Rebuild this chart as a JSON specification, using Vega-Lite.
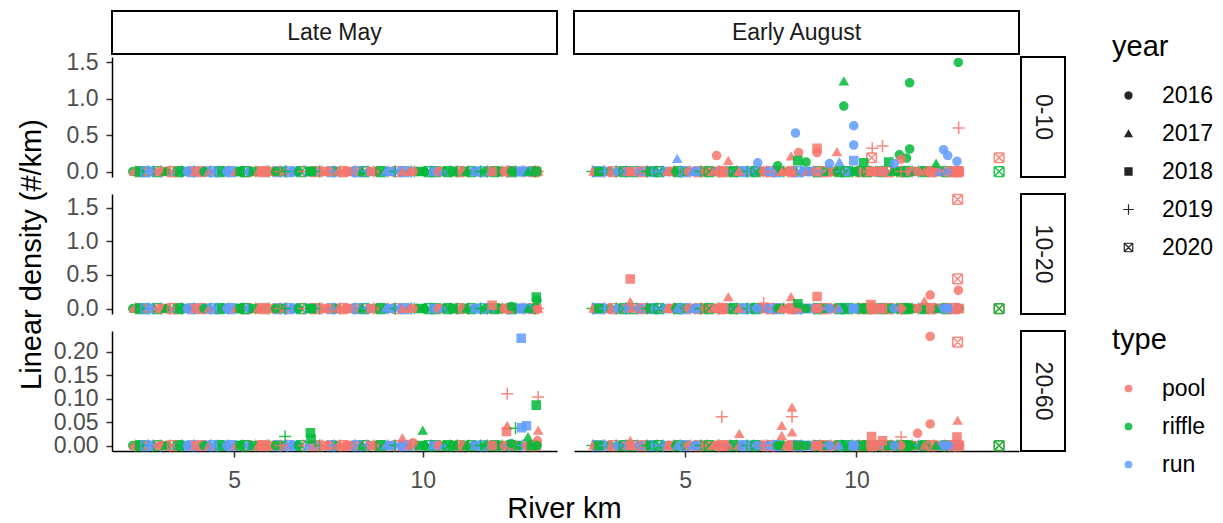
{
"$schema": "https://vega.github.io/schema/vega-lite/v6.json",
"background": "white",
"padding": {"left": 17, "top": 10, "right": 0, "bottom": 0},
"config": {
 "font": "Liberation Sans",
 "view": {"stroke": null},
 "axis": {"domainColor": "black", "domainWidth": 1.5, "tickColor": "#333333", "tickWidth": 1.5, "tickSize": 6, "labelColor": "#4D4D4D", "labelFontSize": 23, "grid": false, "titleFontSize": 29, "titleFontWeight": "normal", "titleColor": "black"},
 "axisX": {"labelPadding": 12},
 "axisY": {"labelPadding": 8},
 "legend": {"titleFontSize": 29, "titleFontWeight": "normal", "titleColor": "black", "labelFontSize": 23, "labelColor": "black", "padding": 0, "rowPadding": 14, "titlePadding": 22, "symbolOffset": 5, "labelOffset": 22},
 "title": {"fontSize": 29, "fontWeight": "normal", "color": "black"}
},
"title": {"text": "River km", "orient": "bottom", "anchor": "start", "align": "center", "dx": 547.5, "offset": 3},
"datasets": {
"d": [
{"k":2.31,"p":"M","yr":"2016","t":"riffle","a":0,"b":0,"c":0},
{"k":2.38,"p":"M","yr":"2019","t":"pool","a":0,"b":0,"c":0},
{"k":2.45,"p":"M","yr":"2017","t":"run","a":0,"b":0,"c":0},
{"k":2.52,"p":"M","yr":"2020","t":"riffle","a":0,"b":0,"c":0},
{"k":2.60,"p":"M","yr":"2018","t":"pool","a":0,"b":0,"c":0},
{"k":2.71,"p":"M","yr":"2019","t":"riffle","a":0,"b":0,"c":0},
{"k":2.80,"p":"M","yr":"2016","t":"run","a":0,"b":0,"c":0},
{"k":2.88,"p":"M","yr":"2017","t":"pool","a":0,"b":0,"c":0},
{"k":2.97,"p":"M","yr":"2020","t":"riffle","a":0,"b":0,"c":0},
{"k":3.05,"p":"M","yr":"2019","t":"run","a":0,"b":0,"c":0},
{"k":3.14,"p":"M","yr":"2018","t":"pool","a":0,"b":0,"c":0},
{"k":3.22,"p":"M","yr":"2016","t":"riffle","a":0,"b":0,"c":0},
{"k":3.31,"p":"M","yr":"2019","t":"pool","a":0,"b":0,"c":0},
{"k":3.40,"p":"M","yr":"2017","t":"run","a":0,"b":0,"c":0},
{"k":3.52,"p":"M","yr":"2020","t":"riffle","a":0,"b":0,"c":0},
{"k":3.61,"p":"M","yr":"2019","t":"riffle","a":0,"b":0,"c":0},
{"k":3.70,"p":"M","yr":"2018","t":"run","a":0,"b":0,"c":0},
{"k":3.82,"p":"M","yr":"2016","t":"pool","a":0,"b":0,"c":0},
{"k":3.93,"p":"M","yr":"2019","t":"riffle","a":0,"b":0,"c":0},
{"k":4.05,"p":"M","yr":"2017","t":"run","a":0,"b":0,"c":0},
{"k":4.15,"p":"M","yr":"2020","t":"pool","a":0,"b":0,"c":0},
{"k":4.26,"p":"M","yr":"2018","t":"run","a":0,"b":0,"c":0},
{"k":4.38,"p":"M","yr":"2019","t":"riffle","a":0,"b":0,"c":0},
{"k":4.50,"p":"M","yr":"2016","t":"run","a":0,"b":0,"c":0},
{"k":4.62,"p":"M","yr":"2020","t":"riffle","a":0,"b":0,"c":0},
{"k":4.74,"p":"M","yr":"2017","t":"run","a":0,"b":0,"c":0},
{"k":4.85,"p":"M","yr":"2019","t":"pool","a":0,"b":0,"c":0},
{"k":4.97,"p":"M","yr":"2018","t":"run","a":0,"b":0,"c":0},
{"k":5.10,"p":"M","yr":"2016","t":"riffle","a":0,"b":0,"c":0},
{"k":5.22,"p":"M","yr":"2019","t":"run","a":0,"b":0,"c":0},
{"k":5.33,"p":"M","yr":"2020","t":"pool","a":0,"b":0,"c":0},
{"k":5.45,"p":"M","yr":"2017","t":"riffle","a":0,"b":0,"c":0},
{"k":5.57,"p":"M","yr":"2019","t":"pool","a":0,"b":0,"c":0},
{"k":5.69,"p":"M","yr":"2018","t":"pool","a":0,"b":0,"c":0},
{"k":5.80,"p":"M","yr":"2016","t":"pool","a":0,"b":0,"c":0},
{"k":5.92,"p":"M","yr":"2019","t":"riffle","a":0,"b":0,"c":0},
{"k":6.04,"p":"M","yr":"2017","t":"pool","a":0,"b":0,"c":0},
{"k":6.15,"p":"M","yr":"2020","t":"run","a":0,"b":0,"c":0},
{"k":6.28,"p":"M","yr":"2018","t":"riffle","a":0,"b":0,"c":0},
{"k":6.40,"p":"M","yr":"2019","t":"pool","a":0,"b":0,"c":0},
{"k":6.52,"p":"M","yr":"2016","t":"run","a":0,"b":0,"c":0},
{"k":6.63,"p":"M","yr":"2017","t":"riffle","a":0,"b":0,"c":0},
{"k":6.77,"p":"M","yr":"2020","t":"riffle","a":0,"b":0,"c":0},
{"k":6.90,"p":"M","yr":"2019","t":"run","a":0,"b":0,"c":0},
{"k":7.08,"p":"M","yr":"2018","t":"pool","a":0,"b":0,"c":0},
{"k":7.20,"p":"M","yr":"2016","t":"run","a":0,"b":0,"c":0},
{"k":7.33,"p":"M","yr":"2019","t":"pool","a":0,"b":0,"c":0},
{"k":7.45,"p":"M","yr":"2017","t":"pool","a":0,"b":0,"c":0},
{"k":7.58,"p":"M","yr":"2020","t":"run","a":0,"b":0,"c":0},
{"k":7.70,"p":"M","yr":"2018","t":"riffle","a":0,"b":0,"c":0},
{"k":7.82,"p":"M","yr":"2019","t":"pool","a":0,"b":0,"c":0},
{"k":7.95,"p":"M","yr":"2016","t":"pool","a":0,"b":0,"c":0},
{"k":8.07,"p":"M","yr":"2017","t":"run","a":0,"b":0,"c":0},
{"k":8.20,"p":"M","yr":"2019","t":"riffle","a":0,"b":0,"c":0},
{"k":8.33,"p":"M","yr":"2018","t":"pool","a":0,"b":0,"c":0},
{"k":8.45,"p":"M","yr":"2020","t":"riffle","a":0,"b":0,"c":0},
{"k":8.58,"p":"M","yr":"2016","t":"run","a":0,"b":0,"c":0},
{"k":8.70,"p":"M","yr":"2019","t":"pool","a":0,"b":0,"c":0},
{"k":8.82,"p":"M","yr":"2017","t":"run","a":0,"b":0,"c":0},
{"k":8.95,"p":"M","yr":"2018","t":"riffle","a":0,"b":0,"c":0},
{"k":9.08,"p":"M","yr":"2019","t":"pool","a":0,"b":0,"c":0},
{"k":9.20,"p":"M","yr":"2016","t":"run","a":0,"b":0,"c":0},
{"k":9.33,"p":"M","yr":"2020","t":"pool","a":0,"b":0,"c":0},
{"k":9.58,"p":"M","yr":"2018","t":"run","a":0,"b":0,"c":0},
{"k":9.70,"p":"M","yr":"2019","t":"riffle","a":0,"b":0,"c":0},
{"k":9.85,"p":"M","yr":"2016","t":"pool","a":0,"b":0,"c":0},
{"k":10.10,"p":"M","yr":"2017","t":"riffle","a":0,"b":0,"c":0},
{"k":10.22,"p":"M","yr":"2019","t":"run","a":0,"b":0,"c":0},
{"k":10.35,"p":"M","yr":"2020","t":"riffle","a":0,"b":0,"c":0},
{"k":10.48,"p":"M","yr":"2018","t":"pool","a":0,"b":0,"c":0},
{"k":10.60,"p":"M","yr":"2016","t":"riffle","a":0,"b":0,"c":0},
{"k":10.73,"p":"M","yr":"2019","t":"run","a":0,"b":0,"c":0},
{"k":10.86,"p":"M","yr":"2017","t":"riffle","a":0,"b":0,"c":0},
{"k":10.98,"p":"M","yr":"2020","t":"pool","a":0,"b":0,"c":0},
{"k":11.10,"p":"M","yr":"2018","t":"riffle","a":0,"b":0,"c":0},
{"k":11.22,"p":"M","yr":"2019","t":"pool","a":0,"b":0,"c":0},
{"k":11.35,"p":"M","yr":"2016","t":"run","a":0,"b":0,"c":0},
{"k":11.48,"p":"M","yr":"2017","t":"riffle","a":0,"b":0,"c":0},
{"k":11.60,"p":"M","yr":"2020","t":"run","a":0,"b":0,"c":0},
{"k":11.72,"p":"M","yr":"2019","t":"riffle","a":0,"b":0,"c":0},
{"k":11.85,"p":"M","yr":"2018","t":"pool","a":0,"b":0,"c":0},
{"k":11.97,"p":"M","yr":"2016","t":"run","a":0,"b":0,"c":0},
{"k":12.10,"p":"M","yr":"2019","t":"pool","a":0,"b":0,"c":0},
{"k":12.22,"p":"M","yr":"2017","t":"run","a":0,"b":0,"c":0},
{"k":12.34,"p":"M","yr":"2020","t":"riffle","a":0,"b":0,"c":0},
{"k":12.47,"p":"M","yr":"2018","t":"run","a":0,"b":0,"c":0},
{"k":12.58,"p":"M","yr":"2016","t":"riffle","a":0,"b":0,"c":0},
{"k":12.70,"p":"M","yr":"2019","t":"pool","a":0,"b":0,"c":0},
{"k":12.82,"p":"M","yr":"2017","t":"run","a":0,"b":0,"c":0},
{"k":12.93,"p":"M","yr":"2020","t":"pool","a":0,"b":0,"c":0},
{"k":13.02,"p":"M","yr":"2018","t":"pool","a":0,"b":0,"c":0},
{"k":2.34,"p":"M","yr":"2017","t":"pool","a":0,"b":0,"c":0},
{"k":2.49,"p":"M","yr":"2018","t":"riffle","a":0,"b":0,"c":0},
{"k":2.66,"p":"M","yr":"2020","t":"run","a":0,"b":0,"c":0},
{"k":2.84,"p":"M","yr":"2019","t":"run","a":0,"b":0,"c":0},
{"k":3.01,"p":"M","yr":"2016","t":"pool","a":0,"b":0,"c":0},
{"k":3.18,"p":"M","yr":"2017","t":"riffle","a":0,"b":0,"c":0},
{"k":3.36,"p":"M","yr":"2020","t":"pool","a":0,"b":0,"c":0},
{"k":3.56,"p":"M","yr":"2018","t":"riffle","a":0,"b":0,"c":0},
{"k":3.76,"p":"M","yr":"2016","t":"run","a":0,"b":0,"c":0},
{"k":3.88,"p":"M","yr":"2020","t":"run","a":0,"b":0,"c":0},
{"k":4.00,"p":"M","yr":"2018","t":"pool","a":0,"b":0,"c":0},
{"k":4.20,"p":"M","yr":"2016","t":"riffle","a":0,"b":0,"c":0},
{"k":4.32,"p":"M","yr":"2017","t":"pool","a":0,"b":0,"c":0},
{"k":4.44,"p":"M","yr":"2020","t":"run","a":0,"b":0,"c":0},
{"k":4.56,"p":"M","yr":"2019","t":"run","a":0,"b":0,"c":0},
{"k":4.68,"p":"M","yr":"2018","t":"riffle","a":0,"b":0,"c":0},
{"k":4.80,"p":"M","yr":"2016","t":"run","a":0,"b":0,"c":0},
{"k":4.91,"p":"M","yr":"2020","t":"run","a":0,"b":0,"c":0},
{"k":5.04,"p":"M","yr":"2017","t":"pool","a":0,"b":0,"c":0},
{"k":5.16,"p":"M","yr":"2018","t":"riffle","a":0,"b":0,"c":0},
{"k":5.28,"p":"M","yr":"2020","t":"riffle","a":0,"b":0,"c":0},
{"k":5.39,"p":"M","yr":"2016","t":"run","a":0,"b":0,"c":0},
{"k":5.51,"p":"M","yr":"2018","t":"riffle","a":0,"b":0,"c":0},
{"k":5.63,"p":"M","yr":"2017","t":"pool","a":0,"b":0,"c":0},
{"k":5.75,"p":"M","yr":"2020","t":"pool","a":0,"b":0,"c":0},
{"k":5.86,"p":"M","yr":"2019","t":"pool","a":0,"b":0,"c":0},
{"k":5.98,"p":"M","yr":"2018","t":"pool","a":0,"b":0,"c":0},
{"k":6.10,"p":"M","yr":"2016","t":"riffle","a":0,"b":0,"c":0},
{"k":6.22,"p":"M","yr":"2019","t":"pool","a":0,"b":0,"c":0},
{"k":6.34,"p":"M","yr":"2017","t":"pool","a":0,"b":0,"c":0},
{"k":6.46,"p":"M","yr":"2020","t":"run","a":0,"b":0,"c":0},
{"k":6.58,"p":"M","yr":"2018","t":"run","a":0,"b":0,"c":0},
{"k":6.70,"p":"M","yr":"2016","t":"riffle","a":0,"b":0,"c":0},
{"k":6.84,"p":"M","yr":"2019","t":"pool","a":0,"b":0,"c":0},
{"k":6.97,"p":"M","yr":"2017","t":"run","a":0,"b":0,"c":0},
{"k":7.14,"p":"M","yr":"2020","t":"pool","a":0,"b":0,"c":0},
{"k":7.27,"p":"M","yr":"2019","t":"riffle","a":0,"b":0,"c":0},
{"k":7.39,"p":"M","yr":"2018","t":"pool","a":0,"b":0,"c":0},
{"k":7.52,"p":"M","yr":"2016","t":"pool","a":0,"b":0,"c":0},
{"k":7.64,"p":"M","yr":"2019","t":"run","a":0,"b":0,"c":0},
{"k":7.76,"p":"M","yr":"2017","t":"pool","a":0,"b":0,"c":0},
{"k":7.89,"p":"M","yr":"2020","t":"pool","a":0,"b":0,"c":0},
{"k":8.01,"p":"M","yr":"2018","t":"pool","a":0,"b":0,"c":0},
{"k":8.13,"p":"M","yr":"2016","t":"pool","a":0,"b":0,"c":0},
{"k":8.26,"p":"M","yr":"2020","t":"run","a":0,"b":0,"c":0},
{"k":8.39,"p":"M","yr":"2017","t":"riffle","a":0,"b":0,"c":0},
{"k":8.52,"p":"M","yr":"2019","t":"run","a":0,"b":0,"c":0},
{"k":8.64,"p":"M","yr":"2018","t":"pool","a":0,"b":0,"c":0},
{"k":8.76,"p":"M","yr":"2016","t":"pool","a":0,"b":0,"c":0},
{"k":8.89,"p":"M","yr":"2020","t":"riffle","a":0,"b":0,"c":0},
{"k":9.02,"p":"M","yr":"2017","t":"run","a":0,"b":0,"c":0},
{"k":9.14,"p":"M","yr":"2018","t":"run","a":0,"b":0,"c":0},
{"k":9.27,"p":"M","yr":"2019","t":"riffle","a":0,"b":0,"c":0},
{"k":9.40,"p":"M","yr":"2016","t":"run","a":0,"b":0,"c":0},
{"k":9.52,"p":"M","yr":"2020","t":"run","a":0,"b":0,"c":0},
{"k":9.64,"p":"M","yr":"2017","t":"pool","a":0,"b":0,"c":0},
{"k":9.78,"p":"M","yr":"2019","t":"run","a":0,"b":0,"c":0},
{"k":9.92,"p":"M","yr":"2018","t":"riffle","a":0,"b":0,"c":0},
{"k":10.04,"p":"M","yr":"2016","t":"riffle","a":0,"b":0,"c":0},
{"k":10.16,"p":"M","yr":"2020","t":"riffle","a":0,"b":0,"c":0},
{"k":10.29,"p":"M","yr":"2018","t":"run","a":0,"b":0,"c":0},
{"k":10.42,"p":"M","yr":"2016","t":"pool","a":0,"b":0,"c":0},
{"k":10.54,"p":"M","yr":"2017","t":"run","a":0,"b":0,"c":0},
{"k":10.67,"p":"M","yr":"2020","t":"riffle","a":0,"b":0,"c":0},
{"k":10.80,"p":"M","yr":"2018","t":"riffle","a":0,"b":0,"c":0},
{"k":10.92,"p":"M","yr":"2019","t":"riffle","a":0,"b":0,"c":0},
{"k":11.04,"p":"M","yr":"2016","t":"pool","a":0,"b":0,"c":0},
{"k":11.16,"p":"M","yr":"2017","t":"riffle","a":0,"b":0,"c":0},
{"k":11.29,"p":"M","yr":"2020","t":"riffle","a":0,"b":0,"c":0},
{"k":11.41,"p":"M","yr":"2018","t":"run","a":0,"b":0,"c":0},
{"k":11.54,"p":"M","yr":"2019","t":"riffle","a":0,"b":0,"c":0},
{"k":11.66,"p":"M","yr":"2016","t":"riffle","a":0,"b":0,"c":0},
{"k":11.78,"p":"M","yr":"2017","t":"run","a":0,"b":0,"c":0},
{"k":11.91,"p":"M","yr":"2020","t":"riffle","a":0,"b":0,"c":0},
{"k":12.04,"p":"M","yr":"2018","t":"riffle","a":0,"b":0,"c":0},
{"k":12.16,"p":"M","yr":"2016","t":"pool","a":0,"b":0,"c":0},
{"k":12.28,"p":"M","yr":"2019","t":"run","a":0,"b":0,"c":0},
{"k":12.40,"p":"M","yr":"2018","t":"pool","a":0,"b":0,"c":0},
{"k":12.52,"p":"M","yr":"2017","t":"riffle","a":0,"b":0,"c":0},
{"k":12.64,"p":"M","yr":"2019","t":"run","a":0,"b":0,"c":0},
{"k":12.76,"p":"M","yr":"2016","t":"pool","a":0,"b":0,"c":0},
{"k":12.88,"p":"M","yr":"2018","t":"riffle","a":0,"b":0,"c":0},
{"k":12.98,"p":"M","yr":"2019","t":"riffle","a":0,"b":0,"c":0},
{"k":12.61,"p":"M","yr":"2018","t":"run","a":0,"b":0,"c":0.228},
{"k":12.24,"p":"M","yr":"2019","t":"pool","a":0,"b":0,"c":0.11},
{"k":13.06,"p":"M","yr":"2019","t":"pool","a":0,"b":0,"c":0.103},
{"k":13.01,"p":"M","yr":"2018","t":"riffle","a":0,"b":0.17,"c":0.086},
{"k":6.35,"p":"M","yr":"2019","t":"riffle","a":0,"b":0,"c":0.019},
{"k":7.02,"p":"M","yr":"2018","t":"riffle","a":0,"b":0,"c":0.027},
{"k":7.04,"p":"M","yr":"2018","t":"riffle","a":0,"b":0,"c":0.014},
{"k":9.46,"p":"M","yr":"2017","t":"pool","a":0,"b":0,"c":0.016},
{"k":10.0,"p":"M","yr":"2017","t":"riffle","a":0,"b":0,"c":0.032},
{"k":9.74,"p":"M","yr":"2016","t":"pool","a":0,"b":0,"c":0.006},
{"k":12.24,"p":"M","yr":"2017","t":"pool","a":0,"b":0,"c":0.042},
{"k":12.22,"p":"M","yr":"2018","t":"pool","a":0,"b":0,"c":0.03},
{"k":12.46,"p":"M","yr":"2019","t":"riffle","a":0,"b":0,"c":0.037},
{"k":12.75,"p":"M","yr":"2018","t":"run","a":0,"b":0,"c":0.042},
{"k":12.62,"p":"M","yr":"2018","t":"run","a":0,"b":0,"c":0.038},
{"k":12.79,"p":"M","yr":"2017","t":"riffle","a":0,"b":0,"c":0.018},
{"k":13.06,"p":"M","yr":"2017","t":"pool","a":0,"b":0,"c":0.032},
{"k":13.04,"p":"M","yr":"2016","t":"pool","a":0,"b":0,"c":0.01},
{"k":12.35,"p":"M","yr":"2016","t":"riffle","a":0,"b":0.03,"c":0.004},
{"k":13.03,"p":"M","yr":"2016","t":"riffle","a":0,"b":0.12,"c":0},
{"k":11.84,"p":"M","yr":"2018","t":"pool","a":0,"b":0.05,"c":0},
{"k":2.30,"p":"A","yr":"2019","t":"riffle","a":0,"b":0,"c":0},
{"k":2.37,"p":"A","yr":"2016","t":"pool","a":0,"b":0,"c":0},
{"k":2.44,"p":"A","yr":"2020","t":"run","a":0,"b":0,"c":0},
{"k":2.53,"p":"A","yr":"2017","t":"riffle","a":0,"b":0,"c":0},
{"k":2.62,"p":"A","yr":"2019","t":"pool","a":0,"b":0,"c":0},
{"k":2.70,"p":"A","yr":"2018","t":"run","a":0,"b":0,"c":0},
{"k":2.81,"p":"A","yr":"2016","t":"riffle","a":0,"b":0,"c":0},
{"k":2.90,"p":"A","yr":"2020","t":"pool","a":0,"b":0,"c":0},
{"k":2.99,"p":"A","yr":"2019","t":"riffle","a":0,"b":0,"c":0},
{"k":3.08,"p":"A","yr":"2017","t":"run","a":0,"b":0,"c":0},
{"k":3.18,"p":"A","yr":"2018","t":"pool","a":0,"b":0,"c":0},
{"k":3.28,"p":"A","yr":"2019","t":"riffle","a":0,"b":0,"c":0},
{"k":3.40,"p":"A","yr":"2016","t":"pool","a":0,"b":0,"c":0},
{"k":3.50,"p":"A","yr":"2020","t":"riffle","a":0,"b":0,"c":0},
{"k":3.60,"p":"A","yr":"2019","t":"run","a":0,"b":0,"c":0},
{"k":3.71,"p":"A","yr":"2017","t":"riffle","a":0,"b":0,"c":0},
{"k":3.83,"p":"A","yr":"2018","t":"run","a":0,"b":0,"c":0},
{"k":3.95,"p":"A","yr":"2016","t":"riffle","a":0,"b":0,"c":0},
{"k":4.07,"p":"A","yr":"2020","t":"run","a":0,"b":0,"c":0},
{"k":4.18,"p":"A","yr":"2019","t":"pool","a":0,"b":0,"c":0},
{"k":4.30,"p":"A","yr":"2017","t":"riffle","a":0,"b":0,"c":0},
{"k":4.42,"p":"A","yr":"2018","t":"run","a":0,"b":0,"c":0},
{"k":4.55,"p":"A","yr":"2016","t":"pool","a":0,"b":0,"c":0},
{"k":4.67,"p":"A","yr":"2019","t":"run","a":0,"b":0,"c":0},
{"k":4.80,"p":"A","yr":"2020","t":"riffle","a":0,"b":0,"c":0},
{"k":4.92,"p":"A","yr":"2017","t":"pool","a":0,"b":0,"c":0},
{"k":5.04,"p":"A","yr":"2018","t":"riffle","a":0,"b":0,"c":0},
{"k":5.16,"p":"A","yr":"2019","t":"pool","a":0,"b":0,"c":0},
{"k":5.28,"p":"A","yr":"2016","t":"riffle","a":0,"b":0,"c":0},
{"k":5.40,"p":"A","yr":"2020","t":"pool","a":0,"b":0,"c":0},
{"k":5.52,"p":"A","yr":"2017","t":"riffle","a":0,"b":0,"c":0},
{"k":5.64,"p":"A","yr":"2019","t":"pool","a":0,"b":0,"c":0},
{"k":5.76,"p":"A","yr":"2018","t":"pool","a":0,"b":0,"c":0},
{"k":5.88,"p":"A","yr":"2016","t":"run","a":0,"b":0,"c":0},
{"k":6.00,"p":"A","yr":"2019","t":"riffle","a":0,"b":0,"c":0},
{"k":6.12,"p":"A","yr":"2020","t":"pool","a":0,"b":0,"c":0},
{"k":6.25,"p":"A","yr":"2017","t":"run","a":0,"b":0,"c":0},
{"k":6.37,"p":"A","yr":"2018","t":"riffle","a":0,"b":0,"c":0},
{"k":6.50,"p":"A","yr":"2019","t":"pool","a":0,"b":0,"c":0},
{"k":6.62,"p":"A","yr":"2016","t":"riffle","a":0,"b":0,"c":0},
{"k":6.75,"p":"A","yr":"2020","t":"run","a":0,"b":0,"c":0},
{"k":6.88,"p":"A","yr":"2017","t":"pool","a":0,"b":0,"c":0},
{"k":7.00,"p":"A","yr":"2019","t":"riffle","a":0,"b":0,"c":0},
{"k":7.12,"p":"A","yr":"2018","t":"run","a":0,"b":0,"c":0},
{"k":7.25,"p":"A","yr":"2016","t":"pool","a":0,"b":0,"c":0},
{"k":7.38,"p":"A","yr":"2019","t":"run","a":0,"b":0,"c":0},
{"k":7.50,"p":"A","yr":"2020","t":"pool","a":0,"b":0,"c":0},
{"k":7.62,"p":"A","yr":"2017","t":"run","a":0,"b":0,"c":0},
{"k":7.75,"p":"A","yr":"2018","t":"pool","a":0,"b":0,"c":0},
{"k":7.88,"p":"A","yr":"2019","t":"riffle","a":0,"b":0,"c":0},
{"k":8.00,"p":"A","yr":"2016","t":"pool","a":0,"b":0,"c":0},
{"k":8.12,"p":"A","yr":"2020","t":"pool","a":0,"b":0,"c":0},
{"k":8.25,"p":"A","yr":"2017","t":"riffle","a":0,"b":0,"c":0},
{"k":8.38,"p":"A","yr":"2019","t":"run","a":0,"b":0,"c":0},
{"k":8.50,"p":"A","yr":"2018","t":"run","a":0,"b":0,"c":0},
{"k":8.62,"p":"A","yr":"2016","t":"riffle","a":0,"b":0,"c":0},
{"k":8.75,"p":"A","yr":"2019","t":"pool","a":0,"b":0,"c":0},
{"k":8.88,"p":"A","yr":"2020","t":"riffle","a":0,"b":0,"c":0},
{"k":9.00,"p":"A","yr":"2017","t":"run","a":0,"b":0,"c":0},
{"k":9.12,"p":"A","yr":"2018","t":"riffle","a":0,"b":0,"c":0},
{"k":9.25,"p":"A","yr":"2019","t":"pool","a":0,"b":0,"c":0},
{"k":9.38,"p":"A","yr":"2016","t":"run","a":0,"b":0,"c":0},
{"k":9.50,"p":"A","yr":"2020","t":"riffle","a":0,"b":0,"c":0},
{"k":9.62,"p":"A","yr":"2017","t":"pool","a":0,"b":0,"c":0},
{"k":9.75,"p":"A","yr":"2018","t":"run","a":0,"b":0,"c":0},
{"k":9.88,"p":"A","yr":"2019","t":"riffle","a":0,"b":0,"c":0},
{"k":10.00,"p":"A","yr":"2016","t":"riffle","a":0,"b":0,"c":0},
{"k":10.12,"p":"A","yr":"2020","t":"pool","a":0,"b":0,"c":0},
{"k":10.25,"p":"A","yr":"2017","t":"riffle","a":0,"b":0,"c":0},
{"k":10.38,"p":"A","yr":"2019","t":"pool","a":0,"b":0,"c":0},
{"k":10.50,"p":"A","yr":"2018","t":"riffle","a":0,"b":0,"c":0},
{"k":10.62,"p":"A","yr":"2016","t":"pool","a":0,"b":0,"c":0},
{"k":10.75,"p":"A","yr":"2020","t":"riffle","a":0,"b":0,"c":0},
{"k":10.88,"p":"A","yr":"2017","t":"riffle","a":0,"b":0,"c":0},
{"k":11.00,"p":"A","yr":"2019","t":"pool","a":0,"b":0,"c":0},
{"k":11.12,"p":"A","yr":"2018","t":"riffle","a":0,"b":0,"c":0},
{"k":11.25,"p":"A","yr":"2016","t":"riffle","a":0,"b":0,"c":0},
{"k":11.38,"p":"A","yr":"2020","t":"pool","a":0,"b":0,"c":0},
{"k":11.50,"p":"A","yr":"2017","t":"run","a":0,"b":0,"c":0},
{"k":11.62,"p":"A","yr":"2019","t":"riffle","a":0,"b":0,"c":0},
{"k":11.75,"p":"A","yr":"2018","t":"pool","a":0,"b":0,"c":0},
{"k":11.88,"p":"A","yr":"2016","t":"run","a":0,"b":0,"c":0},
{"k":12.00,"p":"A","yr":"2020","t":"riffle","a":0,"b":0,"c":0},
{"k":12.12,"p":"A","yr":"2017","t":"pool","a":0,"b":0,"c":0},
{"k":12.25,"p":"A","yr":"2019","t":"run","a":0,"b":0,"c":0},
{"k":12.38,"p":"A","yr":"2018","t":"riffle","a":0,"b":0,"c":0},
{"k":12.50,"p":"A","yr":"2016","t":"pool","a":0,"b":0,"c":0},
{"k":12.62,"p":"A","yr":"2020","t":"riffle","a":0,"b":0,"c":0},
{"k":12.75,"p":"A","yr":"2017","t":"pool","a":0,"b":0,"c":0},
{"k":12.88,"p":"A","yr":"2019","t":"run","a":0,"b":0,"c":0},
{"k":13.00,"p":"A","yr":"2018","t":"pool","a":0,"b":0,"c":0},
{"k":2.33,"p":"A","yr":"2017","t":"pool","a":0,"b":0,"c":0},
{"k":2.48,"p":"A","yr":"2018","t":"riffle","a":0,"b":0,"c":0},
{"k":2.66,"p":"A","yr":"2019","t":"run","a":0,"b":0,"c":0},
{"k":2.85,"p":"A","yr":"2017","t":"pool","a":0,"b":0,"c":0},
{"k":3.03,"p":"A","yr":"2016","t":"run","a":0,"b":0,"c":0},
{"k":3.22,"p":"A","yr":"2020","t":"riffle","a":0,"b":0,"c":0},
{"k":3.34,"p":"A","yr":"2018","t":"run","a":0,"b":0,"c":0},
{"k":3.45,"p":"A","yr":"2017","t":"pool","a":0,"b":0,"c":0},
{"k":3.66,"p":"A","yr":"2016","t":"run","a":0,"b":0,"c":0},
{"k":3.77,"p":"A","yr":"2020","t":"pool","a":0,"b":0,"c":0},
{"k":3.89,"p":"A","yr":"2019","t":"riffle","a":0,"b":0,"c":0},
{"k":4.01,"p":"A","yr":"2018","t":"riffle","a":0,"b":0,"c":0},
{"k":4.12,"p":"A","yr":"2016","t":"run","a":0,"b":0,"c":0},
{"k":4.24,"p":"A","yr":"2020","t":"riffle","a":0,"b":0,"c":0},
{"k":4.36,"p":"A","yr":"2019","t":"run","a":0,"b":0,"c":0},
{"k":4.48,"p":"A","yr":"2017","t":"pool","a":0,"b":0,"c":0},
{"k":4.61,"p":"A","yr":"2018","t":"pool","a":0,"b":0,"c":0},
{"k":4.73,"p":"A","yr":"2016","t":"riffle","a":0,"b":0,"c":0},
{"k":4.86,"p":"A","yr":"2019","t":"riffle","a":0,"b":0,"c":0},
{"k":4.98,"p":"A","yr":"2020","t":"run","a":0,"b":0,"c":0},
{"k":5.10,"p":"A","yr":"2016","t":"pool","a":0,"b":0,"c":0},
{"k":5.22,"p":"A","yr":"2017","t":"run","a":0,"b":0,"c":0},
{"k":5.34,"p":"A","yr":"2018","t":"run","a":0,"b":0,"c":0},
{"k":5.46,"p":"A","yr":"2019","t":"riffle","a":0,"b":0,"c":0},
{"k":5.58,"p":"A","yr":"2016","t":"pool","a":0,"b":0,"c":0},
{"k":5.70,"p":"A","yr":"2020","t":"riffle","a":0,"b":0,"c":0},
{"k":5.82,"p":"A","yr":"2017","t":"pool","a":0,"b":0,"c":0},
{"k":5.94,"p":"A","yr":"2019","t":"pool","a":0,"b":0,"c":0},
{"k":6.06,"p":"A","yr":"2018","t":"pool","a":0,"b":0,"c":0},
{"k":6.18,"p":"A","yr":"2016","t":"pool","a":0,"b":0,"c":0},
{"k":6.31,"p":"A","yr":"2019","t":"run","a":0,"b":0,"c":0},
{"k":6.43,"p":"A","yr":"2020","t":"riffle","a":0,"b":0,"c":0},
{"k":6.56,"p":"A","yr":"2017","t":"pool","a":0,"b":0,"c":0},
{"k":6.68,"p":"A","yr":"2018","t":"run","a":0,"b":0,"c":0},
{"k":6.81,"p":"A","yr":"2019","t":"riffle","a":0,"b":0,"c":0},
{"k":6.94,"p":"A","yr":"2016","t":"run","a":0,"b":0,"c":0},
{"k":7.06,"p":"A","yr":"2020","t":"riffle","a":0,"b":0,"c":0},
{"k":7.18,"p":"A","yr":"2017","t":"riffle","a":0,"b":0,"c":0},
{"k":7.31,"p":"A","yr":"2018","t":"pool","a":0,"b":0,"c":0},
{"k":7.44,"p":"A","yr":"2016","t":"run","a":0,"b":0,"c":0},
{"k":7.56,"p":"A","yr":"2019","t":"pool","a":0,"b":0,"c":0},
{"k":7.69,"p":"A","yr":"2020","t":"run","a":0,"b":0,"c":0},
{"k":7.81,"p":"A","yr":"2016","t":"riffle","a":0,"b":0,"c":0},
{"k":7.94,"p":"A","yr":"2017","t":"pool","a":0,"b":0,"c":0},
{"k":8.06,"p":"A","yr":"2018","t":"pool","a":0,"b":0,"c":0},
{"k":8.18,"p":"A","yr":"2019","t":"pool","a":0,"b":0,"c":0},
{"k":8.31,"p":"A","yr":"2020","t":"run","a":0,"b":0,"c":0},
{"k":8.44,"p":"A","yr":"2016","t":"run","a":0,"b":0,"c":0},
{"k":8.56,"p":"A","yr":"2017","t":"pool","a":0,"b":0,"c":0},
{"k":8.69,"p":"A","yr":"2018","t":"run","a":0,"b":0,"c":0},
{"k":8.81,"p":"A","yr":"2016","t":"pool","a":0,"b":0,"c":0},
{"k":8.94,"p":"A","yr":"2019","t":"run","a":0,"b":0,"c":0},
{"k":9.06,"p":"A","yr":"2020","t":"pool","a":0,"b":0,"c":0},
{"k":9.19,"p":"A","yr":"2017","t":"riffle","a":0,"b":0,"c":0},
{"k":9.31,"p":"A","yr":"2018","t":"pool","a":0,"b":0,"c":0},
{"k":9.44,"p":"A","yr":"2016","t":"riffle","a":0,"b":0,"c":0},
{"k":9.56,"p":"A","yr":"2019","t":"run","a":0,"b":0,"c":0},
{"k":9.69,"p":"A","yr":"2020","t":"riffle","a":0,"b":0,"c":0},
{"k":9.81,"p":"A","yr":"2017","t":"run","a":0,"b":0,"c":0},
{"k":9.94,"p":"A","yr":"2018","t":"riffle","a":0,"b":0,"c":0},
{"k":10.06,"p":"A","yr":"2019","t":"riffle","a":0,"b":0,"c":0},
{"k":10.19,"p":"A","yr":"2016","t":"pool","a":0,"b":0,"c":0},
{"k":10.31,"p":"A","yr":"2020","t":"riffle","a":0,"b":0,"c":0},
{"k":10.44,"p":"A","yr":"2017","t":"riffle","a":0,"b":0,"c":0},
{"k":10.56,"p":"A","yr":"2019","t":"run","a":0,"b":0,"c":0},
{"k":10.69,"p":"A","yr":"2018","t":"pool","a":0,"b":0,"c":0},
{"k":10.81,"p":"A","yr":"2016","t":"run","a":0,"b":0,"c":0},
{"k":10.94,"p":"A","yr":"2020","t":"pool","a":0,"b":0,"c":0},
{"k":11.06,"p":"A","yr":"2017","t":"riffle","a":0,"b":0,"c":0},
{"k":11.19,"p":"A","yr":"2019","t":"riffle","a":0,"b":0,"c":0},
{"k":11.31,"p":"A","yr":"2018","t":"riffle","a":0,"b":0,"c":0},
{"k":11.44,"p":"A","yr":"2020","t":"riffle","a":0,"b":0,"c":0},
{"k":11.56,"p":"A","yr":"2016","t":"pool","a":0,"b":0,"c":0},
{"k":11.69,"p":"A","yr":"2017","t":"riffle","a":0,"b":0,"c":0},
{"k":11.81,"p":"A","yr":"2019","t":"run","a":0,"b":0,"c":0},
{"k":11.94,"p":"A","yr":"2018","t":"riffle","a":0,"b":0,"c":0},
{"k":12.06,"p":"A","yr":"2016","t":"riffle","a":0,"b":0,"c":0},
{"k":12.19,"p":"A","yr":"2020","t":"pool","a":0,"b":0,"c":0},
{"k":12.31,"p":"A","yr":"2018","t":"pool","a":0,"b":0,"c":0},
{"k":12.44,"p":"A","yr":"2017","t":"run","a":0,"b":0,"c":0},
{"k":12.56,"p":"A","yr":"2019","t":"pool","a":0,"b":0,"c":0},
{"k":12.69,"p":"A","yr":"2016","t":"run","a":0,"b":0,"c":0},
{"k":12.81,"p":"A","yr":"2020","t":"pool","a":0,"b":0,"c":0},
{"k":12.94,"p":"A","yr":"2017","t":"riffle","a":0,"b":0,"c":0},
{"k":12.97,"p":"A","yr":"2016","t":"riffle","a":1.5,"b":0,"c":0},
{"k":9.63,"p":"A","yr":"2017","t":"riffle","a":1.24,"b":0,"c":0},
{"k":11.55,"p":"A","yr":"2016","t":"riffle","a":1.22,"b":0,"c":0},
{"k":9.63,"p":"A","yr":"2016","t":"riffle","a":0.9,"b":0,"c":0},
{"k":12.98,"p":"A","yr":"2019","t":"pool","a":0.6,"b":0,"c":0},
{"k":8.22,"p":"A","yr":"2016","t":"run","a":0.53,"b":0,"c":0},
{"k":9.92,"p":"A","yr":"2016","t":"run","a":0.63,"b":0,"c":0},
{"k":9.92,"p":"A","yr":"2016","t":"run","a":0.365,"b":0,"c":0},
{"k":10.46,"p":"A","yr":"2019","t":"pool","a":0.32,"b":0,"c":0},
{"k":10.76,"p":"A","yr":"2019","t":"pool","a":0.35,"b":0,"c":0},
{"k":10.44,"p":"A","yr":"2020","t":"pool","a":0.19,"b":0,"c":0},
{"k":14.16,"p":"A","yr":"2020","t":"pool","a":0.19,"b":0,"c":0},
{"k":14.16,"p":"A","yr":"2020","t":"riffle","a":0,"b":0,"c":0},
{"k":5.92,"p":"A","yr":"2016","t":"pool","a":0.22,"b":0,"c":0},
{"k":6.26,"p":"A","yr":"2017","t":"pool","a":0.15,"b":0.17,"c":0},
{"k":4.77,"p":"A","yr":"2017","t":"run","a":0.175,"b":0,"c":0},
{"k":7.12,"p":"A","yr":"2016","t":"run","a":0.12,"b":0,"c":0},
{"k":8.09,"p":"A","yr":"2017","t":"pool","a":0.21,"b":0.17,"c":0},
{"k":8.31,"p":"A","yr":"2016","t":"pool","a":0.26,"b":0,"c":0},
{"k":8.85,"p":"A","yr":"2018","t":"pool","a":0.32,"b":0.18,"c":0},
{"k":8.85,"p":"A","yr":"2016","t":"pool","a":0.26,"b":0,"c":0},
{"k":9.43,"p":"A","yr":"2017","t":"pool","a":0.27,"b":0,"c":0},
{"k":7.70,"p":"A","yr":"2016","t":"riffle","a":0.08,"b":0,"c":0},
{"k":8.29,"p":"A","yr":"2018","t":"riffle","a":0.15,"b":0.07,"c":0},
{"k":8.53,"p":"A","yr":"2016","t":"riffle","a":0.13,"b":0,"c":0},
{"k":9.21,"p":"A","yr":"2016","t":"run","a":0.11,"b":0,"c":0},
{"k":9.50,"p":"A","yr":"2017","t":"run","a":0.13,"b":0,"c":0},
{"k":9.92,"p":"A","yr":"2018","t":"run","a":0.15,"b":0,"c":0},
{"k":10.94,"p":"A","yr":"2018","t":"riffle","a":0.13,"b":0,"c":0},
{"k":10.21,"p":"A","yr":"2018","t":"riffle","a":0.12,"b":0,"c":0},
{"k":11.25,"p":"A","yr":"2016","t":"riffle","a":0.23,"b":0,"c":0},
{"k":11.46,"p":"A","yr":"2016","t":"riffle","a":0.185,"b":0,"c":0},
{"k":11.55,"p":"A","yr":"2016","t":"riffle","a":0.31,"b":0,"c":0},
{"k":11.30,"p":"A","yr":"2016","t":"pool","a":0.17,"b":0,"c":0},
{"k":12.54,"p":"A","yr":"2016","t":"run","a":0.30,"b":0,"c":0},
{"k":12.66,"p":"A","yr":"2016","t":"run","a":0.22,"b":0,"c":0},
{"k":12.93,"p":"A","yr":"2016","t":"run","a":0.14,"b":0,"c":0},
{"k":12.32,"p":"A","yr":"2017","t":"riffle","a":0.11,"b":0,"c":0},
{"k":11.10,"p":"A","yr":"2016","t":"run","a":0.11,"b":0,"c":0},
{"k":12.95,"p":"A","yr":"2020","t":"pool","a":0,"b":1.62,"c":0.22},
{"k":12.95,"p":"A","yr":"2020","t":"pool","a":0,"b":0.44,"c":0},
{"k":12.97,"p":"A","yr":"2016","t":"pool","a":0,"b":0.27,"c":0},
{"k":12.15,"p":"A","yr":"2016","t":"pool","a":0,"b":0.2,"c":0.232},
{"k":3.40,"p":"A","yr":"2018","t":"pool","a":0,"b":0.44,"c":0},
{"k":3.40,"p":"A","yr":"2017","t":"pool","a":0,"b":0.1,"c":0.01},
{"k":11.98,"p":"A","yr":"2017","t":"pool","a":0,"b":0.11,"c":0},
{"k":7.29,"p":"A","yr":"2019","t":"pool","a":0,"b":0.08,"c":0},
{"k":10.42,"p":"A","yr":"2018","t":"pool","a":0,"b":0.06,"c":0},
{"k":12.95,"p":"A","yr":"2017","t":"pool","a":0,"b":0,"c":0.053},
{"k":12.93,"p":"A","yr":"2018","t":"pool","a":0,"b":0,"c":0.018},
{"k":12.15,"p":"A","yr":"2016","t":"pool","a":0,"b":0,"c":0.046},
{"k":11.78,"p":"A","yr":"2016","t":"pool","a":0,"b":0,"c":0.026},
{"k":11.30,"p":"A","yr":"2019","t":"pool","a":0,"b":0,"c":0.018},
{"k":6.07,"p":"A","yr":"2019","t":"pool","a":0,"b":0,"c":0.061},
{"k":8.12,"p":"A","yr":"2017","t":"pool","a":0,"b":0,"c":0.081},
{"k":8.12,"p":"A","yr":"2019","t":"pool","a":0,"b":0,"c":0.061},
{"k":8.12,"p":"A","yr":"2017","t":"pool","a":0,"b":0,"c":0.028},
{"k":7.82,"p":"A","yr":"2017","t":"pool","a":0,"b":0,"c":0.042},
{"k":7.82,"p":"A","yr":"2017","t":"pool","a":0,"b":0,"c":0.021},
{"k":6.58,"p":"A","yr":"2017","t":"pool","a":0,"b":0,"c":0.025},
{"k":10.44,"p":"A","yr":"2018","t":"pool","a":0,"b":0,"c":0.019},
{"k":10.76,"p":"A","yr":"2018","t":"pool","a":0,"b":0,"c":0.01}
]
},
"columns": 3,
"bounds": "flush",
"spacing": {"row": 3, "column": 2},
"concat": [
{
 "width": 460, "height": 43,
 "data": {"values": [{"lab": "Late May"}]},
 "encoding": {"x": {"field": "lab", "type": "nominal", "scale": {"range": [0, 445], "paddingInner": 0, "paddingOuter": 0}, "axis": null}},
 "layer": [
  {"mark": {"type": "rect", "fill": "white", "stroke": "black", "strokeWidth": 2}},
  {"mark": {"type": "text", "fontSize": 23, "color": "#1A1A1A"}, "encoding": {"text": {"field": "lab"}}}
 ]
},
{
 "width": 445, "height": 43,
 "data": {"values": [{"lab": "Early August"}]},
 "encoding": {"x": {"field": "lab", "type": "nominal", "scale": {"range": [0, 445], "paddingInner": 0, "paddingOuter": 0}, "axis": null}},
 "layer": [
  {"mark": {"type": "rect", "fill": "white", "stroke": "black", "strokeWidth": 2}},
  {"mark": {"type": "text", "fontSize": 23, "color": "#1A1A1A"}, "encoding": {"text": {"field": "lab"}}}
 ]
},
{
 "width": 44, "height": 43,
 "data": {"values": [{"lab": ""}]},
 "mark": {"type": "text"},
 "encoding": {"text": {"field": "lab"}}
},
{
 "width": 460, "height": 134,
 "data": {"name": "d"},
 "transform": [{"filter": "datum.p == 'M'"}],
 "mark": {"type": "point", "filled": true, "size": 65, "strokeWidth": 1.5, "opacity": 0.85},
 "encoding": {
  "x": {"field": "k", "type": "quantitative", "scale": {"domain": [1.76, 13.56], "range": [0, 445], "nice": false, "zero": false}, "axis": null},
  "y": {"field": "a", "type": "quantitative", "scale": {"domain": [-0.075, 1.575], "range": [120, 0], "nice": false, "zero": false}, "axis": {"values": [0, 0.5, 1, 1.5], "format": ".1f", "title": null}},
  "color": {"field": "t", "type": "nominal", "scale": {"domain": ["pool", "riffle", "run"], "range": ["#F8766D", "#00BA38", "#619CFF"]}, "legend": {"title": "type", "orient": "none", "legendX": 1000, "legendY": 315, "symbolType": "circle", "symbolSize": 60, "symbolStrokeWidth": 0}},
  "stroke": {"field": "t", "type": "nominal", "scale": {"domain": ["pool", "riffle", "run"], "range": ["#F8766D", "#00BA38", "#619CFF"]}, "legend": null},
  "shape": {"field": "yr", "type": "nominal", "scale": {"domain": ["2016", "2017", "2018", "2019", "2020"], "range": ["circle", "triangle-up", "square", "M-1.5,0L1.5,0M0,-1.5L0,1.5", "M-1.2,-1.2L1.2,-1.2M1.2,-1.2L1.2,1.2M1.2,1.2L-1.2,1.2M-1.2,1.2L-1.2,-1.2M-1.2,-1.2L1.2,1.2M1.2,-1.2L-1.2,1.2"]}, "legend": {"title": "year", "orient": "none", "legendX": 1000, "legendY": 22, "symbolFillColor": "black", "symbolStrokeColor": "black", "symbolStrokeWidth": 1.2, "symbolSize": 50}}
 }
},
{
 "width": 445, "height": 134,
 "data": {"name": "d"},
 "transform": [{"filter": "datum.p == 'A'"}],
 "mark": {"type": "point", "filled": true, "size": 65, "strokeWidth": 1.5, "opacity": 0.85},
 "encoding": {
  "x": {"field": "k", "type": "quantitative", "scale": {"domain": [1.76, 14.74], "nice": false, "zero": false}, "axis": null},
  "y": {"field": "a", "type": "quantitative", "scale": {"domain": [-0.075, 1.575], "range": [120, 0], "nice": false, "zero": false}, "axis": null},
  "color": {"field": "t", "type": "nominal", "scale": {"domain": ["pool", "riffle", "run"], "range": ["#F8766D", "#00BA38", "#619CFF"]}, "legend": {"title": "type", "orient": "none", "legendX": 1000, "legendY": 315, "symbolType": "circle", "symbolSize": 60, "symbolStrokeWidth": 0}},
  "stroke": {"field": "t", "type": "nominal", "scale": {"domain": ["pool", "riffle", "run"], "range": ["#F8766D", "#00BA38", "#619CFF"]}, "legend": null},
  "shape": {"field": "yr", "type": "nominal", "scale": {"domain": ["2016", "2017", "2018", "2019", "2020"], "range": ["circle", "triangle-up", "square", "M-1.5,0L1.5,0M0,-1.5L0,1.5", "M-1.2,-1.2L1.2,-1.2M1.2,-1.2L1.2,1.2M1.2,1.2L-1.2,1.2M-1.2,1.2L-1.2,-1.2M-1.2,-1.2L1.2,1.2M1.2,-1.2L-1.2,1.2"]}, "legend": {"title": "year", "orient": "none", "legendX": 1000, "legendY": 22, "symbolFillColor": "black", "symbolStrokeColor": "black", "symbolStrokeWidth": 1.2, "symbolSize": 50}}
 }
},
{
 "width": 44, "height": 134,
 "data": {"values": [{"lab": "0-10"}]},
 "encoding": {"y": {"field": "lab", "type": "nominal", "scale": {"range": [0, 120], "paddingInner": 0, "paddingOuter": 0}, "axis": null}},
 "layer": [
  {"mark": {"type": "rect", "fill": "white", "stroke": "black", "strokeWidth": 2}},
  {"mark": {"type": "text", "fontSize": 23, "color": "#1A1A1A", "angle": 90}, "encoding": {"text": {"field": "lab"}}}
 ]
},
{
 "width": 460, "height": 134,
 "data": {"name": "d"},
 "transform": [{"filter": "datum.p == 'M'"}],
 "mark": {"type": "point", "filled": true, "size": 65, "strokeWidth": 1.5, "opacity": 0.85},
 "encoding": {
  "x": {"field": "k", "type": "quantitative", "scale": {"domain": [1.76, 13.56], "range": [0, 445], "nice": false, "zero": false}, "axis": null},
  "y": {"field": "b", "type": "quantitative", "scale": {"domain": [-0.081, 1.701], "range": [120, 0], "nice": false, "zero": false}, "axis": {"values": [0, 0.5, 1, 1.5], "format": ".1f", "title": "Linear density (#/km)", "titlePadding": 20}},
  "color": {"field": "t", "type": "nominal", "scale": {"domain": ["pool", "riffle", "run"], "range": ["#F8766D", "#00BA38", "#619CFF"]}, "legend": {"title": "type", "orient": "none", "legendX": 1000, "legendY": 315, "symbolType": "circle", "symbolSize": 60, "symbolStrokeWidth": 0}},
  "stroke": {"field": "t", "type": "nominal", "scale": {"domain": ["pool", "riffle", "run"], "range": ["#F8766D", "#00BA38", "#619CFF"]}, "legend": null},
  "shape": {"field": "yr", "type": "nominal", "scale": {"domain": ["2016", "2017", "2018", "2019", "2020"], "range": ["circle", "triangle-up", "square", "M-1.5,0L1.5,0M0,-1.5L0,1.5", "M-1.2,-1.2L1.2,-1.2M1.2,-1.2L1.2,1.2M1.2,1.2L-1.2,1.2M-1.2,1.2L-1.2,-1.2M-1.2,-1.2L1.2,1.2M1.2,-1.2L-1.2,1.2"]}, "legend": {"title": "year", "orient": "none", "legendX": 1000, "legendY": 22, "symbolFillColor": "black", "symbolStrokeColor": "black", "symbolStrokeWidth": 1.2, "symbolSize": 50}}
 }
},
{
 "width": 445, "height": 134,
 "data": {"name": "d"},
 "transform": [{"filter": "datum.p == 'A'"}],
 "mark": {"type": "point", "filled": true, "size": 65, "strokeWidth": 1.5, "opacity": 0.85},
 "encoding": {
  "x": {"field": "k", "type": "quantitative", "scale": {"domain": [1.76, 14.74], "nice": false, "zero": false}, "axis": null},
  "y": {"field": "b", "type": "quantitative", "scale": {"domain": [-0.081, 1.701], "range": [120, 0], "nice": false, "zero": false}, "axis": null},
  "color": {"field": "t", "type": "nominal", "scale": {"domain": ["pool", "riffle", "run"], "range": ["#F8766D", "#00BA38", "#619CFF"]}, "legend": {"title": "type", "orient": "none", "legendX": 1000, "legendY": 315, "symbolType": "circle", "symbolSize": 60, "symbolStrokeWidth": 0}},
  "stroke": {"field": "t", "type": "nominal", "scale": {"domain": ["pool", "riffle", "run"], "range": ["#F8766D", "#00BA38", "#619CFF"]}, "legend": null},
  "shape": {"field": "yr", "type": "nominal", "scale": {"domain": ["2016", "2017", "2018", "2019", "2020"], "range": ["circle", "triangle-up", "square", "M-1.5,0L1.5,0M0,-1.5L0,1.5", "M-1.2,-1.2L1.2,-1.2M1.2,-1.2L1.2,1.2M1.2,1.2L-1.2,1.2M-1.2,1.2L-1.2,-1.2M-1.2,-1.2L1.2,1.2M1.2,-1.2L-1.2,1.2"]}, "legend": {"title": "year", "orient": "none", "legendX": 1000, "legendY": 22, "symbolFillColor": "black", "symbolStrokeColor": "black", "symbolStrokeWidth": 1.2, "symbolSize": 50}}
 }
},
{
 "width": 44, "height": 134,
 "data": {"values": [{"lab": "10-20"}]},
 "encoding": {"y": {"field": "lab", "type": "nominal", "scale": {"range": [0, 120], "paddingInner": 0, "paddingOuter": 0}, "axis": null}},
 "layer": [
  {"mark": {"type": "rect", "fill": "white", "stroke": "black", "strokeWidth": 2}},
  {"mark": {"type": "text", "fontSize": 23, "color": "#1A1A1A", "angle": 90}, "encoding": {"text": {"field": "lab"}}}
 ]
},
{
 "width": 460, "height": 120,
 "data": {"name": "d"},
 "transform": [{"filter": "datum.p == 'M'"}],
 "mark": {"type": "point", "filled": true, "size": 65, "strokeWidth": 1.5, "opacity": 0.85},
 "encoding": {
  "x": {"field": "k", "type": "quantitative", "scale": {"domain": [1.76, 13.56], "range": [0, 445], "nice": false, "zero": false}, "axis": {"values": [5, 10], "format": "d", "title": null}},
  "y": {"field": "c", "type": "quantitative", "scale": {"domain": [-0.0116, 0.2436], "nice": false, "zero": false}, "axis": {"values": [0, 0.05, 0.1, 0.15, 0.2], "format": ".2f", "title": null}},
  "color": {"field": "t", "type": "nominal", "scale": {"domain": ["pool", "riffle", "run"], "range": ["#F8766D", "#00BA38", "#619CFF"]}, "legend": {"title": "type", "orient": "none", "legendX": 1000, "legendY": 315, "symbolType": "circle", "symbolSize": 60, "symbolStrokeWidth": 0}},
  "stroke": {"field": "t", "type": "nominal", "scale": {"domain": ["pool", "riffle", "run"], "range": ["#F8766D", "#00BA38", "#619CFF"]}, "legend": null},
  "shape": {"field": "yr", "type": "nominal", "scale": {"domain": ["2016", "2017", "2018", "2019", "2020"], "range": ["circle", "triangle-up", "square", "M-1.5,0L1.5,0M0,-1.5L0,1.5", "M-1.2,-1.2L1.2,-1.2M1.2,-1.2L1.2,1.2M1.2,1.2L-1.2,1.2M-1.2,1.2L-1.2,-1.2M-1.2,-1.2L1.2,1.2M1.2,-1.2L-1.2,1.2"]}, "legend": {"title": "year", "orient": "none", "legendX": 1000, "legendY": 22, "symbolFillColor": "black", "symbolStrokeColor": "black", "symbolStrokeWidth": 1.2, "symbolSize": 50}}
 }
},
{
 "width": 445, "height": 120,
 "data": {"name": "d"},
 "transform": [{"filter": "datum.p == 'A'"}],
 "mark": {"type": "point", "filled": true, "size": 65, "strokeWidth": 1.5, "opacity": 0.85},
 "encoding": {
  "x": {"field": "k", "type": "quantitative", "scale": {"domain": [1.76, 14.74], "nice": false, "zero": false}, "axis": {"values": [5, 10], "format": "d", "title": null}},
  "y": {"field": "c", "type": "quantitative", "scale": {"domain": [-0.0116, 0.2436], "nice": false, "zero": false}, "axis": null},
  "color": {"field": "t", "type": "nominal", "scale": {"domain": ["pool", "riffle", "run"], "range": ["#F8766D", "#00BA38", "#619CFF"]}, "legend": {"title": "type", "orient": "none", "legendX": 1000, "legendY": 315, "symbolType": "circle", "symbolSize": 60, "symbolStrokeWidth": 0}},
  "stroke": {"field": "t", "type": "nominal", "scale": {"domain": ["pool", "riffle", "run"], "range": ["#F8766D", "#00BA38", "#619CFF"]}, "legend": null},
  "shape": {"field": "yr", "type": "nominal", "scale": {"domain": ["2016", "2017", "2018", "2019", "2020"], "range": ["circle", "triangle-up", "square", "M-1.5,0L1.5,0M0,-1.5L0,1.5", "M-1.2,-1.2L1.2,-1.2M1.2,-1.2L1.2,1.2M1.2,1.2L-1.2,1.2M-1.2,1.2L-1.2,-1.2M-1.2,-1.2L1.2,1.2M1.2,-1.2L-1.2,1.2"]}, "legend": {"title": "year", "orient": "none", "legendX": 1000, "legendY": 22, "symbolFillColor": "black", "symbolStrokeColor": "black", "symbolStrokeWidth": 1.2, "symbolSize": 50}}
 }
},
{
 "width": 44, "height": 120,
 "data": {"values": [{"lab": "20-60"}]},
 "encoding": {"y": {"field": "lab", "type": "nominal", "scale": {"range": [0, 120], "paddingInner": 0, "paddingOuter": 0}, "axis": null}},
 "layer": [
  {"mark": {"type": "rect", "fill": "white", "stroke": "black", "strokeWidth": 2}},
  {"mark": {"type": "text", "fontSize": 23, "color": "#1A1A1A", "angle": 90}, "encoding": {"text": {"field": "lab"}}}
 ]
}
]
}
